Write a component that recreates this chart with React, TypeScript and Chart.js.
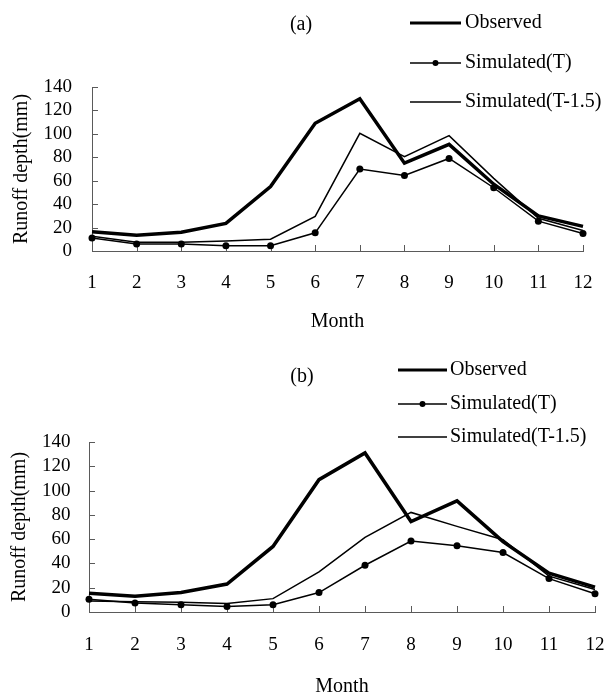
import React, { useEffect, useRef } from "react";
import { Chart, registerables } from "chart.js";

Chart.register(...registerables);

const months = ["1", "2", "3", "4", "5", "6", "7", "8", "9", "10", "11", "12"];
const seriesLabels = ["Observed", "Simulated(T)", "Simulated(T-1.5)"];
const panelTitles = ["(a)", "(b)"];
const xTitle = "Month";
const yTitle = "Runoff depth(mm)";
const yMin = 0;
const yMax = 140;
const yStep = 20;

// Panel (a)
const observedA = [16.5, 13.5, 16, 23.5, 55, 109, 130, 75, 91, 57, 30, 21];
const simulatedTA = [11, 6, 6, 4.5, 4.5, 15.5, 70, 64.5, 79, 54, 25.5, 15];
const simulatedT15A = [12.5, 7.5, 7.5, 8.5, 10, 29.5, 100.5, 80.5, 98.5, 62, 28, 17.5];

// Panel (b)
const observedB = [15.5, 13, 16, 23, 54, 109, 131, 74.5, 91.5, 58, 32, 20.5];
const simulatedTB = [10.5, 7.5, 6, 4.5, 6, 16, 38.5, 58.5, 54.5, 49, 27.5, 15];
const simulatedT15B = [9, 8.5, 8, 7, 11, 33, 61.5, 82, 70.5, 59.5, 29.5, 18.5];

const FONT = '"Liberation Serif", "Times New Roman", serif';
const AXIS_COLOR = "#5a5a5a";

const innerTicks = {
  id: "innerTicks",
  beforeDatasetsDraw(chart: any) {
    const { ctx, chartArea, scales } = chart;
    const len = 6;
    ctx.save();
    ctx.strokeStyle = AXIS_COLOR;
    ctx.lineWidth = 1;
    ctx.beginPath();
    scales.x.ticks.forEach((_t: any, i: number) => {
      const x = Math.round(scales.x.getPixelForTick(i)) + 0.5;
      ctx.moveTo(x, chartArea.bottom);
      ctx.lineTo(x, chartArea.bottom - len);
    });
    scales.y.ticks.forEach((t: any) => {
      const y = Math.round(scales.y.getPixelForValue(t.value)) + 0.5;
      ctx.moveTo(chartArea.left, y);
      ctx.lineTo(chartArea.left + len, y);
    });
    ctx.stroke();
    ctx.restore();
  },
};

const decor = {
  id: "decor",
  afterDraw(chart: any, _args: any, opts: any) {
    const ctx = chart.ctx;
    ctx.save();
    ctx.fillStyle = "#000";
    ctx.font = `20px ${FONT}`;
    ctx.textBaseline = "middle";
    ctx.textAlign = "center";
    ctx.fillText(opts.title, opts.titleX, opts.titleY);
    chart.data.datasets.forEach((ds: any, i: number) => {
      const y = opts.rows[i];
      ctx.strokeStyle = ds.borderColor;
      ctx.lineWidth = Math.min(ds.borderWidth, 3);
      ctx.beginPath();
      ctx.moveTo(opts.lineX1, y);
      ctx.lineTo(opts.lineX2, y);
      ctx.stroke();
      if (ds.pointRadius > 0) {
        ctx.beginPath();
        ctx.arc((opts.lineX1 + opts.lineX2) / 2, y, ds.pointRadius * 0.85, 0, Math.PI * 2);
        ctx.fill();
      }
      ctx.textAlign = "left";
      ctx.fillText(ds.label, opts.textX, y);
    });
    ctx.restore();
  },
};

type PanelProps = {
  width: number;
  height: number;
  top: number;
  observed: number[];
  simT: number[];
  simT15: number[];
  pad: { left: number; right: number; top: number; bottom: number };
  xTickPad: number;
  xTickLineHeight: string;
  xTitlePad: { top: number; bottom: number };
  yTickPad: number;
  yTitlePad: { top: number; bottom: number };
  decorOpts: any;
};

function Panel(p: PanelProps) {
  const ref = useRef<HTMLCanvasElement | null>(null);
  useEffect(() => {
    if (!ref.current) return;
    const chart = new Chart(ref.current, {
      type: "line",
      data: {
        labels: months,
        datasets: [
          {
            label: seriesLabels[0],
            data: p.observed,
            borderColor: "#000",
            backgroundColor: "#000",
            borderWidth: 3.5,
            pointRadius: 0,
            tension: 0,
          },
          {
            label: seriesLabels[1],
            data: p.simT,
            borderColor: "#000",
            backgroundColor: "#000",
            borderWidth: 1.5,
            pointRadius: 3.5,
            pointBorderWidth: 0,
            pointBackgroundColor: "#000",
            tension: 0,
          },
          {
            label: seriesLabels[2],
            data: p.simT15,
            borderColor: "#000",
            backgroundColor: "#000",
            borderWidth: 1.5,
            pointRadius: 0,
            tension: 0,
          },
        ],
      },
      options: {
        animation: false,
        responsive: false,
        maintainAspectRatio: false,
        devicePixelRatio: 1,
        layout: { padding: p.pad },
        plugins: {
          legend: { display: false },
          title: { display: false },
          tooltip: { enabled: false },
          decor: p.decorOpts,
        } as any,
        scales: {
          x: {
            type: "category",
            offset: false,
            grid: { display: false, drawTicks: false },
            border: { display: true, color: AXIS_COLOR, width: 1 },
            ticks: {
              color: "#000",
              font: { family: FONT, size: 19, lineHeight: p.xTickLineHeight },
              padding: p.xTickPad,
              maxRotation: 0,
              autoSkip: false,
            },
            title: {
              display: true,
              text: xTitle,
              color: "#000",
              font: { family: FONT, size: 20, lineHeight: 1 },
              padding: p.xTitlePad,
            },
          },
          y: {
            type: "linear",
            min: yMin,
            max: yMax,
            grid: { display: false, drawTicks: false },
            border: { display: true, color: AXIS_COLOR, width: 1 },
            ticks: {
              stepSize: yStep,
              autoSkip: false,
              color: "#000",
              font: { family: FONT, size: 19, lineHeight: 1 },
              padding: p.yTickPad,
            },
            title: {
              display: true,
              text: yTitle,
              color: "#000",
              font: { family: FONT, size: 20, lineHeight: 1 },
              padding: p.yTitlePad,
            },
          },
        },
      },
      plugins: [innerTicks, decor],
    });
    return () => chart.destroy();
  }, []);
  return (
    <canvas
      ref={ref}
      width={p.width}
      height={p.height}
      style={{
        position: "absolute",
        left: 0,
        top: p.top,
        width: p.width,
        height: p.height,
        display: "block",
      }}
    />
  );
}

export default function App() {
  return (
    <div
      style={{
        position: "absolute",
        left: 0,
        top: 0,
        width: 608,
        height: 693,
        background: "#fff",
        overflow: "hidden",
      }}
    >
      <Panel
        width={608}
        height={340}
        top={0}
        observed={observedA}
        simT={simulatedTA}
        simT15={simulatedT15A}
        pad={{ left: 2, right: 25, top: 87, bottom: 0 }}
        xTickPad={10}
        xTickLineHeight="44px"
        xTitlePad={{ top: -3, bottom: 8 }}
        yTickPad={20}
        yTitlePad={{ top: 10, bottom: -8.5 }}
        decorOpts={{
          title: panelTitles[0],
          titleX: 301,
          titleY: 25,
          rows: [23, 63, 102],
          lineX1: 410,
          lineX2: 461,
          textX: 465,
        }}
      />
      <Panel
        width={608}
        height={360}
        top={340}
        observed={observedB}
        simT={simulatedTB}
        simT15={simulatedT15B}
        pad={{ left: 1.5, right: 13, top: 102, bottom: 0 }}
        xTickPad={3}
        xTickLineHeight="60px"
        xTitlePad={{ top: -1, bottom: 3 }}
        yTickPad={18.5}
        yTitlePad={{ top: 8, bottom: -6 }}
        decorOpts={{
          title: panelTitles[1],
          titleX: 302,
          titleY: 37,
          rows: [30, 64, 97],
          lineX1: 398,
          lineX2: 447,
          textX: 450,
        }}
      />
    </div>
  );
}
